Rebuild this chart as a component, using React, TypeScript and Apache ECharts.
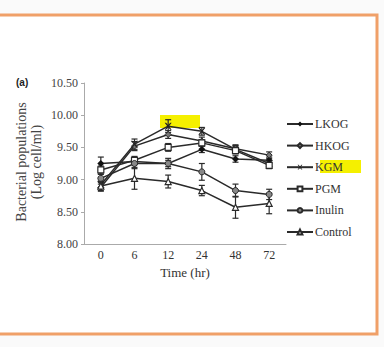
import React, { useEffect, useRef } from "react";
import * as echarts from "echarts";

const categories = ["0", "6", "12", "24", "48", "72"];
const seriesNames = ["LKOG", "HKOG", "KGM", "PGM", "Inulin", "Control"];
const lkog = [9.25, 9.28, 9.25, 9.47, 9.32, 9.3];
const hkog = [8.88, 9.52, 9.7, 9.6, 9.48, 9.38];
const kgm = [8.92, 9.55, 9.83, 9.75, 9.47, 9.25];
const pgm = [9.15, 9.3, 9.5, 9.57, 9.45, 9.22];
const inulin = [9.02, 9.25, 9.25, 9.12, 8.83, 8.77];
const control = [8.9, 9.02, 8.97, 8.83, 8.57, 8.63];
const lkogErr = [0.1, 0.05, 0.05, 0.05, 0.05, 0.05];
const hkogErr = [0.05, 0.07, 0.06, 0.06, 0.06, 0.05];
const kgmErr = [0.05, 0.08, 0.1, 0.06, 0.06, 0.05];
const pgmErr = [0.06, 0.06, 0.06, 0.05, 0.05, 0.05];
const inulinErr = [0.06, 0.08, 0.08, 0.13, 0.1, 0.08];
const controlErr = [0.08, 0.17, 0.1, 0.08, 0.17, 0.16];
const yTicks = ["8.00", "8.50", "9.00", "9.50", "10.00", "10.50"];

const values = [lkog, hkog, kgm, pgm, inulin, control];
const errors = [lkogErr, hkogErr, kgmErr, pgmErr, inulinErr, controlErr];

const INK = "#2a2a2a";
const SERIF = "Liberation Serif";
const X_PATH =
  "path://M0,0L2,0L5,3.5L8,0L10,0L6.2,5L10,10L8,10L5,6.5L2,10L0,10L3.8,5Z";

const symbolFor = [
  { symbol: "diamond", size: 7, itemStyle: { color: "#111", borderColor: "#111", borderWidth: 0 } },
  { symbol: "diamond", size: 6, itemStyle: { color: "#777", borderColor: INK, borderWidth: 1 } },
  { symbol: X_PATH, size: 7, itemStyle: { color: "#222", borderWidth: 0 } },
  { symbol: "rect", size: 6, itemStyle: { color: "#fff", borderColor: INK, borderWidth: 1.2 } },
  { symbol: "circle", size: 6, itemStyle: { color: "#888", borderColor: INK, borderWidth: 1 } },
  { symbol: "triangle", size: 6, itemStyle: { color: "#fff", borderColor: INK, borderWidth: 1.2 } },
];

export default function App() {
  const ref = useRef<HTMLDivElement>(null);
  useEffect(() => {
    if (!ref.current) return;
    const chart = echarts.init(ref.current, undefined, { renderer: "svg" });

    const lineSeries = seriesNames.map((name, i) => ({
      name,
      type: "line",
      data: values[i],
      symbol: symbolFor[i].symbol,
      symbolSize: symbolFor[i].size,
      showAllSymbol: true,
      itemStyle: symbolFor[i].itemStyle,
      lineStyle: { color: INK, width: 1.5 },
      z: 3,
    }));

    const errSeries = seriesNames.map((name, i) => ({
      name: name + " err",
      type: "custom",
      z: 2,
      data: values[i].map((v, j) => [j, v - errors[i][j], v + errors[i][j]]),
      renderItem: (params: any, api: any) => {
        const x = api.value(0);
        const lo = api.coord([x, api.value(1)]);
        const hi = api.coord([x, api.value(2)]);
        const w = 3;
        const style = { stroke: INK, lineWidth: 1.2 };
        return {
          type: "group",
          children: [
            { type: "line", shape: { x1: lo[0], y1: lo[1], x2: hi[0], y2: hi[1] }, style },
            { type: "line", shape: { x1: lo[0] - w, y1: lo[1], x2: lo[0] + w, y2: lo[1] }, style },
            { type: "line", shape: { x1: hi[0] - w, y1: hi[1], x2: hi[0] + w, y2: hi[1] }, style },
          ],
        };
      },
    }));

    chart.setOption({
      animation: false,
      backgroundColor: "#fafafa",
      textStyle: { fontFamily: SERIF },
      graphic: [
        {
          type: "rect",
          z: -10,
          shape: { x: -10, y: 15, width: 387, height: 319 },
          style: { fill: "#fff", stroke: "#f0a068", lineWidth: 3 },
        },
        {
          type: "rect",
          z: -5,
          shape: { x: 160, y: 115, width: 40, height: 13 },
          style: { fill: "#f5f000" },
        },
        {
          type: "rect",
          z: -5,
          shape: { x: 320, y: 160, width: 41, height: 13 },
          style: { fill: "#f5f000" },
        },
        {
          type: "text",
          x: 16,
          y: 77,
          style: { text: "(a)", fontFamily: "Liberation Sans", fontWeight: "bold", fontSize: 10, fill: "#222" },
        },
        {
          type: "text",
          x: 29,
          y: 162,
          rotation: Math.PI / 2,
          style: {
            text: "Bacterial populations\n(Log cell/ml)",
            fontFamily: SERIF,
            fontSize: 14,
            fill: "#444",
            align: "center",
            verticalAlign: "middle",
            lineHeight: 15,
          },
        },
      ],
      legend: {
        orient: "vertical",
        left: 286,
        top: 117,
        padding: 0,
        itemWidth: 26,
        itemHeight: 6,
        itemGap: 7.6,
        data: seriesNames,
        textStyle: { color: "#333", fontFamily: SERIF, fontSize: 12, lineHeight: 14, padding: [0, 0, 0, -3] },
        z: 10,
      },
      grid: { left: 84, right: 98, top: 83, bottom: 103 },
      xAxis: {
        type: "category",
        data: categories,
        boundaryGap: true,
        axisLine: { lineStyle: { color: "#aaa", width: 1 } },
        axisTick: { show: false },
        axisLabel: { color: "#333", fontFamily: SERIF, fontSize: 12, margin: 5 },
        name: "Time (hr)",
        nameLocation: "middle",
        nameGap: 22,
        nameTextStyle: { color: "#333", fontFamily: SERIF, fontSize: 13 },
      },
      yAxis: {
        type: "value",
        min: 8,
        max: 10.5,
        interval: 0.5,
        axisLine: { show: true, lineStyle: { color: "#aaa", width: 1 } },
        axisTick: { show: true, length: 3, lineStyle: { color: "#aaa" } },
        splitLine: { show: false },
        axisLabel: {
          color: "#444",
          fontFamily: SERIF,
          fontSize: 12,
          margin: 6,
          formatter: (v: number) => yTicks[Math.round((v - 8) / 0.5)] ?? v.toFixed(2),
        },
      },
      series: [...errSeries, ...lineSeries],
    });
    return () => chart.dispose();
  }, []);
  return (
    <div
      ref={ref}
      style={{ position: "fixed", left: 0, top: 0, width: 384, height: 347 }}
    />
  );
}
